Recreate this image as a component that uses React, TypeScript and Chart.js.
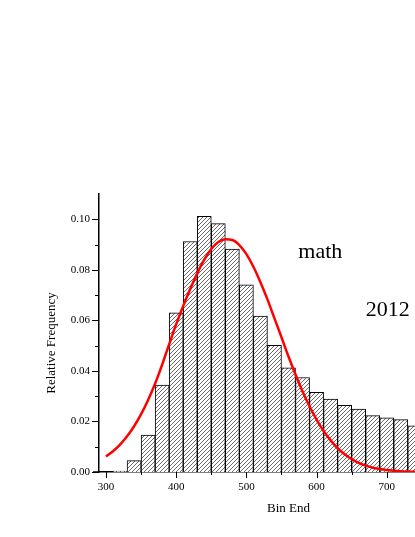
import React, { useEffect, useRef } from 'react';
import { Chart, registerables } from 'chart.js';

Chart.register(...registerables);

// ---- data ----
const BIN_WIDTH = 20;
const BIN_ENDS = [330, 350, 370, 390, 410, 430, 450, 470, 490, 510, 530, 550, 570, 590, 610, 630, 650, 670, 690, 710, 730, 750];
const REL_FREQ = [0.0004, 0.0045, 0.0146, 0.0344, 0.063, 0.0912, 0.1012, 0.0983, 0.0882, 0.0741, 0.0617, 0.0501, 0.0412, 0.0374, 0.0315, 0.0289, 0.0264, 0.0249, 0.0223, 0.0214, 0.0207, 0.0183];

const CURVE_X = [300, 310, 320, 330, 340, 350, 360, 370, 380, 390, 400, 410, 420, 430, 440, 450, 460, 470, 480, 490, 500, 510, 520, 530, 540, 550, 560, 570, 580, 590, 600, 610, 620, 630, 640, 650, 660, 670, 680, 690, 700, 720, 740, 760, 780];
const CURVE_Y = [0.0061, 0.0082, 0.0108, 0.0141, 0.0181, 0.0229, 0.0285, 0.035, 0.0425, 0.0506, 0.0585, 0.0657, 0.0724, 0.0786, 0.084, 0.0882, 0.091, 0.0921, 0.0918, 0.0898, 0.0862, 0.0812, 0.0751, 0.0683, 0.0608, 0.0533, 0.0457, 0.0386, 0.0319, 0.026, 0.0207, 0.0162, 0.0125, 0.0094, 0.007, 0.0051, 0.0036, 0.0025, 0.0017, 0.0012, 0.0008, 0.0003, 0.0001, 0.00005, 0.00002];

const X_MIN = 290;
const X_MAX = 830;
const X_MAJOR = [300, 400, 500, 600, 700, 800];
const X_MINOR = [350, 450, 550, 650, 750];
const Y_MIN = 0;
const Y_MAX = 0.11;
const Y_MAJOR = [0, 0.02, 0.04, 0.06, 0.08, 0.1];
const Y_MINOR = [0.01, 0.03, 0.05, 0.07, 0.09];

const X_TITLE = 'Bin End';
const Y_TITLE = 'Relative Frequency';
const NOTES = ['math', '2012'];
const NOTE_X = [574, 670];
const NOTE_Y = [0.0846, 0.0617];

const SERIF = '"Liberation Serif", "Times New Roman", serif';

function makeHatch(): CanvasPattern | string {
  const c = document.createElement('canvas');
  c.width = 4;
  c.height = 4;
  const g = c.getContext('2d');
  if (!g) return '#fff';
  g.fillStyle = '#fff';
  g.fillRect(0, 0, 4, 4);
  g.strokeStyle = '#3a3a3a';
  g.lineWidth = 0.75;
  g.beginPath();
  g.moveTo(-1, 5);
  g.lineTo(5, -1);
  g.moveTo(-1, 1);
  g.lineTo(1, -1);
  g.moveTo(3, 5);
  g.lineTo(5, 3);
  g.stroke();
  const p = g.createPattern(c, 'repeat');
  return p || '#fff';
}

const decorPlugin = {
  id: 'decor',
  afterDraw(chart: any) {
    const { ctx, chartArea } = chart;
    const xs = chart.scales.x;
    const ys = chart.scales.y;
    ctx.save();
    ctx.strokeStyle = '#000';
    ctx.lineWidth = 1;
    const seg = (x1: number, y1: number, x2: number, y2: number) => {
      ctx.beginPath();
      ctx.moveTo(x1, y1);
      ctx.lineTo(x2, y2);
      ctx.stroke();
    };
    const L = chartArea.left;
    const B = chartArea.bottom;
    Y_MAJOR.forEach((v) => {
      const py = Math.round(ys.getPixelForValue(v)) + 0.5;
      seg(L - 7, py, L, py);
    });
    Y_MINOR.forEach((v) => {
      const py = Math.round(ys.getPixelForValue(v)) + 0.5;
      seg(L - 4, py, L, py);
    });
    X_MAJOR.forEach((v) => {
      const px = Math.round(xs.getPixelForValue(v)) + 0.5;
      seg(px, B, px, B + 6);
    });
    X_MINOR.forEach((v) => {
      const px = Math.round(xs.getPixelForValue(v)) + 0.5;
      seg(px, B, px, B + 3);
    });
    // small extension of the x axis line to the left
    ctx.lineWidth = 1.5;
    seg(L - 6, B, L, B);

    ctx.fillStyle = '#000';
    // axis titles
    ctx.font = '13px ' + SERIF;
    ctx.textAlign = 'center';
    ctx.textBaseline = 'alphabetic';
    ctx.fillText(X_TITLE, (chartArea.left + chartArea.right) / 2, B + 40);
    ctx.save();
    ctx.translate(L - 44, (chartArea.top + B) / 2 + 10);
    ctx.rotate(-Math.PI / 2);
    ctx.fillText(Y_TITLE, 0, 0);
    ctx.restore();

    // annotations
    ctx.font = '22px ' + SERIF;
    ctx.textAlign = 'left';
    NOTES.forEach((t, i) => {
      ctx.fillText(t, xs.getPixelForValue(NOTE_X[i]), ys.getPixelForValue(NOTE_Y[i]));
    });
    ctx.restore();
  },
};

export default function App() {
  const ref = useRef<HTMLCanvasElement | null>(null);

  useEffect(() => {
    const canvas = ref.current;
    if (!canvas) return;
    const hatch = makeHatch();
    const bars = BIN_ENDS.map((e, i) => ({ x: e - BIN_WIDTH / 2, y: REL_FREQ[i] }));
    const curve = CURVE_X.map((x, i) => ({ x, y: CURVE_Y[i] }));

    const chart = new Chart(canvas, {
      type: 'bar',
      data: {
        datasets: [
          {
            type: 'line',
            data: curve,
            borderColor: 'rgb(255,0,0)',
            borderWidth: 2.5,
            pointRadius: 0,
            cubicInterpolationMode: 'monotone',
            fill: false,
            order: 0,
          } as any,
          {
            type: 'bar',
            data: bars,
            backgroundColor: hatch as any,
            borderColor: '#000',
            borderWidth: 1,
            barPercentage: 1,
            categoryPercentage: 1,
            order: 1,
          } as any,
        ],
      },
      options: {
        responsive: false,
        animation: false,
        devicePixelRatio: 1,
        layout: { padding: { top: 194, right: 22, bottom: 0, left: 0 } },
        plugins: {
          legend: { display: false },
          tooltip: { enabled: false },
          title: { display: false },
        },
        scales: {
          x: {
            type: 'linear',
            min: X_MIN,
            max: X_MAX,
            offset: false,
            grid: { display: false, drawTicks: false },
            border: { display: true, color: '#000', width: 1.5 },
            afterBuildTicks: (s: any) => {
              s.ticks = X_MAJOR.map((v) => ({ value: v }));
            },
            afterFit: (s: any) => {
              s.height = 65;
            },
            ticks: {
              padding: 9,
              color: '#000',
              font: { family: SERIF, size: 11 },
              maxRotation: 0,
              callback: (v: any) => String(v),
            },
          },
          y: {
            type: 'linear',
            min: Y_MIN,
            max: Y_MAX,
            grid: { display: false, drawTicks: false },
            border: { display: true, color: '#000', width: 1.5 },
            afterBuildTicks: (s: any) => {
              s.ticks = Y_MAJOR.map((v) => ({ value: v }));
            },
            afterFit: (s: any) => {
              s.width = 99;
            },
            ticks: {
              padding: 9,
              color: '#000',
              font: { family: SERIF, size: 11 },
              callback: (v: any) => Number(v).toFixed(2),
            },
          },
        },
      } as any,
      plugins: [decorPlugin],
    });
    return () => chart.destroy();
  }, []);

  return (
    <div style={{ position: 'absolute', left: 0, top: 0, width: 415, height: 537, overflow: 'hidden', background: '#fff' }}>
      <canvas ref={ref} width={500} height={537} style={{ width: 500, height: 537, display: 'block' }} />
    </div>
  );
}
